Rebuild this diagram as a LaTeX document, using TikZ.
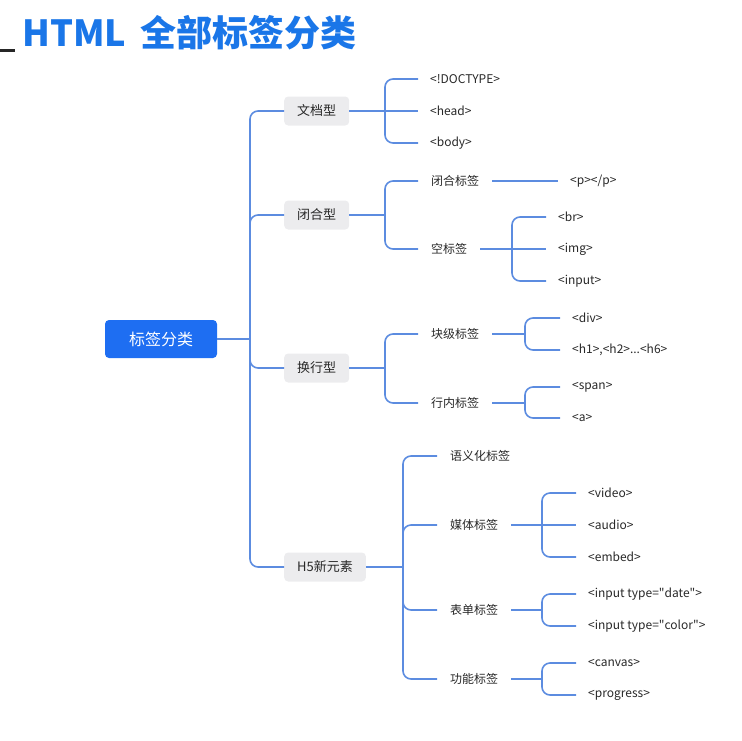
\documentclass[tikz,border=0pt]{standalone}
\usepackage{fontspec}
\setmainfont{Noto Sans CJK SC}
\usetikzlibrary{calc}

\definecolor{titleblue}{RGB}{26,118,232}
\definecolor{rootblue}{RGB}{30,110,242}
\definecolor{branchblue}{RGB}{92,140,224}
\definecolor{boxgray}{RGB}{236,236,238}
\definecolor{textgray}{RGB}{40,40,40}

\tikzset{
	branch/.style={draw=branchblue, line width=1.6pt, rounded corners=8pt},
	rootbox/.style={fill=rootblue, text=white, rounded corners=4pt,
		minimum width=112pt, minimum height=38pt, font=\fontsize{16}{18}\selectfont},
	typebox/.style={fill=boxgray, text=textgray, rounded corners=4pt, anchor=west,
		inner xsep=13pt, minimum height=29pt, font=\fontsize{13}{15}\selectfont},
	subitem/.style={anchor=west, inner xsep=13pt, inner ysep=2pt, text=textgray,
		font=\fontsize{12}{14}\selectfont},
	leaf/.style={anchor=west, inner xsep=12pt, inner ysep=2pt, text=textgray,
		font=\fontsize{12}{14}\selectfont},
}

\begin{document}
\begin{tikzpicture}[x=1pt, y=-1pt]

% frame %{{{2

	\useasboundingbox (0,0) rectangle (742,740);

% title %{{{2

	\fill[black!85] (0,49) rectangle (15,52);
	\node[anchor=base west, inner sep=0pt, text=titleblue,
		font=\fontsize{36}{40}\selectfont\bfseries] (title) at (22,46)
		{HTML\hspace{6pt} 全部标签分类};

% root and types %{{{2

	\node[rootbox] (root) at (161,339) {标签分类};

	\node[typebox] (doc) at (284,111) {文档型};
	\node[typebox] (closed) at (284,215) {闭合型};
	\node[typebox] (wrap) at (284,368) {换行型};
	\node[typebox] (h5) at (284,567) {H5新元素};

% sub items %{{{2

	\node[subitem] (pair) at (418,181) {闭合标签};
	\node[subitem] (empty) at (418,249) {空标签};
	\node[subitem] (block) at (418,334) {块级标签};
	\node[subitem] (inline) at (418,403) {行内标签};

	\node[subitem] (semantic) at (437,456) {语义化标签};
	\node[subitem] (media) at (437,525) {媒体标签};
	\node[subitem] (form) at (437,610) {表单标签};
	\node[subitem] (func) at (437,679) {功能标签};

% leaves %{{{2

	\foreach \name/\x/\y/\txt in {
		doctype/418/79/{<!DOCTYPE>}, head/418/111/{<head>}, body/418/143/{<body>},
		p/558/181/{<p></p>},
		br/546/217/{<br>}, img/546/249/{<img>}, input/546/281/{<input>},
		div/560/318/{<div>}, hx/560/350/{<h1>,<h2>...<h6>},
		span/560/387/{<span>}, a/560/418/{<a>},
		video/576/493/{<video>}, audio/576/525/{<audio>}, embed/576/557/{<embed>},
		date/576/594/{<input type=\textquotedbl{}date\textquotedbl{}>},
		color/576/626/{<input type=\textquotedbl{}color\textquotedbl{}>},
		canvas/576/663/{<canvas>}, progress/576/695/{<progress>}} {
		\node[leaf] (\name) at (\x,\y) {\txt};
	}

% junctions %{{{2

	\coordinate (jroot) at (250,339);
	\coordinate (jdoc) at (385,111);
	\coordinate (jclosed) at (385,215);
	\coordinate (jwrap) at (385,368);
	\coordinate (jh5) at (403,567);
	\coordinate (jempty) at (512,249);
	\coordinate (jblock) at (525,334);
	\coordinate (jinline) at (525,403);
	\coordinate (jmedia) at (542,525);
	\coordinate (jform) at (542,610);
	\coordinate (jfunc) at (542,679);

% branches %{{{2

	\draw[branch] (root.east) -- (jroot);
	\foreach \n in {doc,closed,wrap,h5} { \draw[branch] (jroot) |- (\n.west); }

	\draw[branch] (doc.east) -- (jdoc);
	\foreach \n in {doctype,body} { \draw[branch] (jdoc) |- (\n.west); }
	\draw[branch] (jdoc) -- (head.west);

	\draw[branch] (closed.east) -- (jclosed);
	\foreach \n in {pair,empty} { \draw[branch] (jclosed) |- (\n.west); }
	\draw[branch] (pair.east) -- (p.west);
	\draw[branch] (empty.east) -- (jempty);
	\foreach \n in {br,input} { \draw[branch] (jempty) |- (\n.west); }
	\draw[branch] (jempty) -- (img.west);

	\draw[branch] (wrap.east) -- (jwrap);
	\foreach \n in {block,inline} { \draw[branch] (jwrap) |- (\n.west); }
	\draw[branch] (block.east) -- (jblock);
	\foreach \n in {div,hx} { \draw[branch] (jblock) |- (\n.west); }
	\draw[branch] (inline.east) -- (jinline);
	\foreach \n in {span,a} { \draw[branch] (jinline) |- (\n.west); }

	\draw[branch] (h5.east) -- (jh5);
	\foreach \n in {semantic,media,form,func} { \draw[branch] (jh5) |- (\n.west); }
	\draw[branch] (media.east) -- (jmedia);
	\foreach \n in {video,embed} { \draw[branch] (jmedia) |- (\n.west); }
	\draw[branch] (jmedia) -- (audio.west);
	\draw[branch] (form.east) -- (jform);
	\foreach \n in {date,color} { \draw[branch] (jform) |- (\n.west); }
	\draw[branch] (func.east) -- (jfunc);
	\foreach \n in {canvas,progress} { \draw[branch] (jfunc) |- (\n.west); }

% closing %{{{2

\end{tikzpicture}
\end{document}
